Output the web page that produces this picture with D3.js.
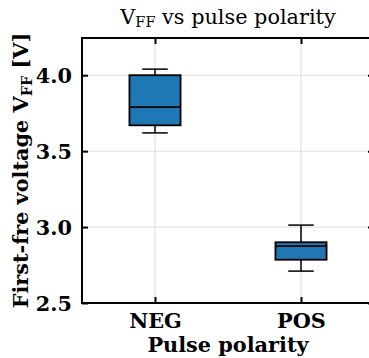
<!DOCTYPE html>
<html><head><meta charset="utf-8">
<script src="https://cdn.jsdelivr.net/npm/d3@7"></script>
<style>body{margin:0;background:#fff}svg{display:block}</style>
</head><body>
<svg id="c" width="369" height="358"></svg>
<script>
const categories = ["NEG", "POS"];
const whiskerLow  = [3.62, 2.71];
const q1          = [3.67, 2.785];
const medians     = [3.79, 2.875];
const q3          = [4.00, 2.90];
const whiskerHigh = [4.04, 3.013];
const yTicks = [2.5, 3.0, 3.5, 4.0];

const W = 369, H = 358;
const m = {left: 82, top: 38, right: 374, bottom: 303};
const svg = d3.select("#c");
const font = "'DejaVu Serif', serif";
const FS = 20.8;

const x = d3.scaleLinear().domain([-0.5, 1.5]).range([m.left, m.right]);
const y = d3.scaleLinear().domain([2.5, 4.245]).range([m.bottom, m.top]);

// grid
const g = svg.append("g");
g.selectAll(".gy").data(yTicks).join("line")
  .attr("x1", m.left).attr("x2", m.right)
  .attr("y1", d => y(d)).attr("y2", d => y(d))
  .attr("stroke", "#dcdcdc").attr("stroke-width", 1);
g.selectAll(".gx").data(categories).join("line")
  .attr("x1", (d,i) => x(i)).attr("x2", (d,i) => x(i))
  .attr("y1", m.top).attr("y2", m.bottom)
  .attr("stroke", "#dcdcdc").attr("stroke-width", 1);

// boxes
const bw = 0.35, cw = 0.175;
const data = categories.map((c,i) => ({c, i, lo: whiskerLow[i], q1: q1[i], med: medians[i], q3: q3[i], hi: whiskerHigh[i]}));
const b = svg.append("g").selectAll("g").data(data).join("g");
b.append("line").attr("x1", d => x(d.i)).attr("x2", d => x(d.i))
  .attr("y1", d => y(d.q3)).attr("y2", d => y(d.hi)).attr("stroke", "#000").attr("stroke-width", 1.5);
b.append("line").attr("x1", d => x(d.i)).attr("x2", d => x(d.i))
  .attr("y1", d => y(d.q1)).attr("y2", d => y(d.lo)).attr("stroke", "#000").attr("stroke-width", 1.5);
b.append("line").attr("x1", d => x(d.i - cw/2)).attr("x2", d => x(d.i + cw/2))
  .attr("y1", d => y(d.hi)).attr("y2", d => y(d.hi)).attr("stroke", "#000").attr("stroke-width", 1.5);
b.append("line").attr("x1", d => x(d.i - cw/2)).attr("x2", d => x(d.i + cw/2))
  .attr("y1", d => y(d.lo)).attr("y2", d => y(d.lo)).attr("stroke", "#000").attr("stroke-width", 1.5);
b.append("rect").attr("x", d => x(d.i - bw/2)).attr("width", d => x(d.i + bw/2) - x(d.i - bw/2))
  .attr("y", d => y(d.q3)).attr("height", d => y(d.q1) - y(d.q3))
  .attr("fill", "#1f77b4").attr("stroke", "#000").attr("stroke-width", 1.8);
b.append("line").attr("x1", d => x(d.i - bw/2)).attr("x2", d => x(d.i + bw/2))
  .attr("y1", d => y(d.med)).attr("y2", d => y(d.med)).attr("stroke", "#000").attr("stroke-width", 1.8);

// axes (ticks inward)
const ax = svg.append("g");
const yl = d3.axisLeft(y).tickValues(yTicks).tickSizeInner(-6).tickSizeOuter(0).tickPadding(10).tickFormat(d3.format(".1f"));
const yAx = ax.append("g").attr("transform", `translate(${m.left},0)`).call(yl);
const yr = d3.axisRight(y).tickValues(yTicks).tickSizeInner(-6).tickSizeOuter(0).tickFormat("");
ax.append("g").attr("transform", `translate(${m.right},0)`).call(yr);
const xb = d3.axisBottom(x).tickValues([0,1]).tickSizeInner(-6).tickSizeOuter(0).tickPadding(12).tickFormat(i => categories[i]);
const xAx = ax.append("g").attr("transform", `translate(0,${m.bottom})`).call(xb);
const xt = d3.axisTop(x).tickValues([0,1]).tickSizeInner(-6).tickSizeOuter(0).tickFormat("");
ax.append("g").attr("transform", `translate(0,${m.top})`).call(xt);
ax.selectAll(".domain").remove();
ax.selectAll(".tick line").attr("stroke", "#000").attr("stroke-width", 2);
ax.selectAll(".tick text").attr("font-family", font).attr("font-weight", "bold").attr("font-size", FS).attr("fill", "#000");
yAx.selectAll(".tick text").attr("x", -10).attr("dy", "0.36em");
xAx.selectAll(".tick text").attr("y", 0).attr("dy", 0).attr("transform", "translate(0,25)");

// spines
svg.append("rect").attr("x", m.left).attr("y", m.top).attr("width", m.right - m.left).attr("height", m.bottom - m.top)
  .attr("fill", "none").attr("stroke", "#000").attr("stroke-width", 2);

// title
const t = svg.append("text").attr("x", (m.left + m.right)/2).attr("y", 24).attr("text-anchor", "middle")
  .attr("font-family", font).attr("font-size", FS).attr("fill", "#000");
t.append("tspan").text("V");
t.append("tspan").attr("font-size", 14.5).attr("dy", 3).text("FF");
t.append("tspan").attr("dy", -3).text(" vs pulse polarity");

// x label
svg.append("text").attr("x", (m.left + m.right)/2).attr("y", 352).attr("text-anchor", "middle")
  .attr("font-family", font).attr("font-weight", "bold").attr("font-size", FS).attr("fill", "#000")
  .text("Pulse polarity");

// y label
const ylab = svg.append("text").attr("transform", `translate(28,${(m.top + m.bottom)/2}) rotate(-90)`)
  .attr("text-anchor", "middle").attr("font-family", font).attr("font-weight", "bold").attr("font-size", FS).attr("fill", "#000");
ylab.append("tspan").text("First-fre voltage V");
ylab.append("tspan").attr("font-size", 14.5).attr("dy", 4).text("FF");
ylab.append("tspan").attr("dy", -4).text(" [V]");
</script>
</body></html>
